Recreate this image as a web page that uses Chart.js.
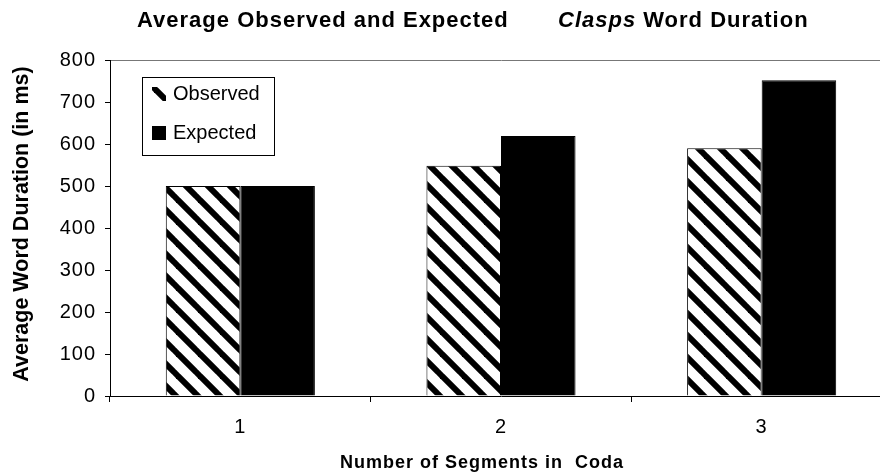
<!DOCTYPE html>
<html>
<head>
<meta charset="utf-8">
<title>Clasps Word Duration</title>
<script src="https://cdn.jsdelivr.net/npm/chart.js@4.4.1/dist/chart.umd.min.js"></script>
<style>
	html, body { margin: 0; padding: 0; background: #fff; overflow: hidden; }
	#wrap { position: relative; width: 892px; height: 476px; }
</style>
</head>
<body>
<div id="wrap"><canvas id="durationChart"></canvas></div>
<script>
// Data
const categories = ['1', '2', '3'];
const observed = [500, 548, 590];
const expected = [500, 619, 752];
const seriesNames = ['Observed', 'Expected'];
const yMin = 0;
const yMax = 800;
const yStep = 100;

const FONT = "'Liberation Sans', Arial, Helvetica, sans-serif";

// Diagonal stripe fill for the observed bars
function makeHatch() {
	const size = 22;
	const c = document.createElement('canvas');
	c.width = size;
	c.height = size;
	const g = c.getContext('2d');
	g.fillStyle = '#fff';
	g.fillRect(0, 0, size, size);
	g.strokeStyle = '#000';
	g.lineWidth = 6;
	for (let k = -size; k <= size; k += size) {
		g.beginPath();
		g.moveTo(k - 2, -2);
		g.lineTo(k + size + 2, size + 2);
		g.stroke();
	}
	return g.createPattern(c, 'repeat');
}

const hatch = makeHatch();

// The reference lettering runs a little wider than Arial
const spacing = {
	id: 'spacing',
	beforeDraw(chart) {
		chart.ctx.letterSpacing = '1px';
	}
};

// Title, x-axis title, y-axis title and the boxed legend
const decorations = {
	id: 'decorations',
	afterDraw(chart) {
		const ctx = chart.ctx;
		ctx.save();
		ctx.fillStyle = '#000';
		ctx.letterSpacing = '1px';

		// main title (mixed roman / italic)
		ctx.textBaseline = 'alphabetic';
		ctx.textAlign = 'left';
		ctx.font = 'bold 22px ' + FONT;
		ctx.fillText('Average Observed and Expected', 137, 27);
		ctx.font = 'italic bold 22px ' + FONT;
		ctx.fillText('Clasps', 558, 27);
		const w = ctx.measureText('Clasps').width;
		ctx.font = 'bold 22px ' + FONT;
		ctx.fillText(' Word Duration', 558 + w, 27);

		// x-axis title
		ctx.textAlign = 'center';
		ctx.font = 'bold 18px ' + FONT;
		ctx.fillText('Number of Segments in  Coda', 482, 468);

		// y-axis title
		ctx.letterSpacing = '0px';
		ctx.save();
		ctx.translate(22.5, 224);
		ctx.rotate(-Math.PI / 2);
		ctx.textBaseline = 'middle';
		ctx.font = 'bold 21.5px ' + FONT;
		ctx.fillText('Average Word Duration (in ms)', 0, 0);
		ctx.restore();

		// legend box
		ctx.fillStyle = '#fff';
		ctx.fillRect(142, 77, 132, 78);
		ctx.strokeStyle = '#000';
		ctx.lineWidth = 1;
		ctx.strokeRect(142.5, 77.5, 132, 78);
		ctx.textAlign = 'left';
		ctx.textBaseline = 'middle';
		ctx.font = '20px ' + FONT;
		chart.data.datasets.forEach(function(ds, i) {
			const y = 94 + i * 39;
			ctx.fillStyle = ds.backgroundColor;
			ctx.fillRect(152, y - 7, 14, 14);
			ctx.fillStyle = '#000';
			ctx.fillText(ds.label, 173, y);
		});
		ctx.restore();
	}
};

const chartCtx = document.getElementById('durationChart').getContext('2d');

new Chart(chartCtx, {
	type: 'bar',
	data: {
		labels: categories,
		datasets: [{
			label: seriesNames[0],
			data: observed,
			backgroundColor: hatch,
			borderColor: '#000',
			borderWidth: 1
		}, {
			label: seriesNames[1],
			data: expected,
			backgroundColor: '#000',
			borderColor: '#000',
			borderWidth: 1
		}]
	},
	options: {
		responsive: true,
		maintainAspectRatio: false,
		animation: false,
		categoryPercentage: 0.572,
		barPercentage: 1,
		layout: {
			padding: { top: 60, left: 0, right: 0, bottom: 0 }
		},
		plugins: {
			legend: { display: false },
			title: { display: false },
			tooltip: { enabled: false }
		},
		scales: {
			x: {
				grid: {
					offset: true,
					drawOnChartArea: false,
					tickLength: 6,
					tickColor: '#000'
				},
				border: { color: '#000', width: 1 },
				ticks: {
					color: '#000',
					padding: 13,
					font: { family: FONT, size: 20 }
				},
				afterFit: function(scale) { scale.height = 80; }
			},
			y: {
				min: yMin,
				max: yMax,
				grid: {
					color: function(c) {
						return c.tick && c.tick.value === yMax ? '#777' : 'rgba(0,0,0,0)';
					},
					tickLength: 5,
					tickColor: '#000'
				},
				border: { color: '#000', width: 1 },
				ticks: {
					stepSize: yStep,
					color: '#000',
					padding: 9,
					font: { family: FONT, size: 20 }
				},
				afterFit: function(scale) { scale.width = 110; }
			}
		}
	},
	plugins: [spacing, decorations]
});
</script>
</body>
</html>
